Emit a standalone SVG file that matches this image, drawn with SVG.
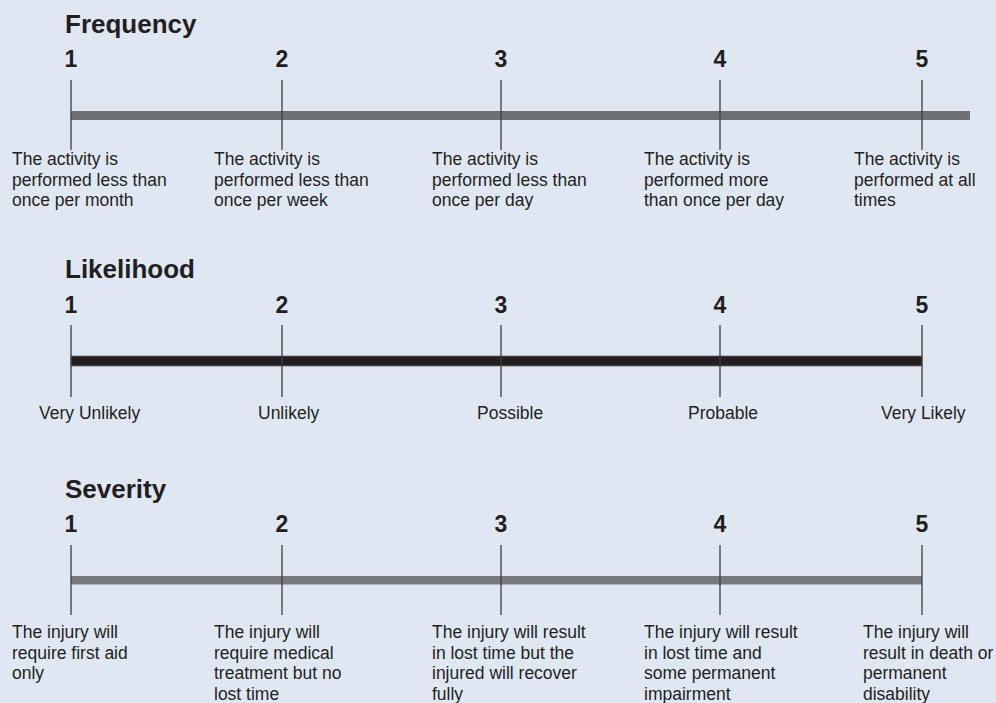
<svg xmlns="http://www.w3.org/2000/svg" width="996" height="703" viewBox="0 0 996 703">
<style>
.title{font-family:"Liberation Sans",Arial,sans-serif;font-weight:bold;font-size:26px;fill:#231f20}
.num{font-family:"Liberation Sans",Arial,sans-serif;font-weight:bold;font-size:23px;fill:#231f20;text-anchor:middle}
.lbl{font-family:"Liberation Sans",Arial,sans-serif;font-size:17.5px;fill:#231f20}
.tick{stroke:#3d3d3f;stroke-width:1.3}
</style>
<rect width="996" height="703" fill="#dfe8f2"/>

<g id="frequency">
<text class="title" x="65" y="33">Frequency</text>
<rect x="71" y="111" width="899" height="9" fill="#6d6f73"/>
<g class="tick">
<line x1="71" y1="80" x2="71" y2="150"/>
<line x1="282" y1="80" x2="282" y2="150"/>
<line x1="501" y1="80" x2="501" y2="150"/>
<line x1="720" y1="80" x2="720" y2="150"/>
<line x1="922" y1="80" x2="922" y2="150"/>
</g>
<text class="num" x="71" y="67">1</text>
<text class="num" x="282" y="67">2</text>
<text class="num" x="501" y="67">3</text>
<text class="num" x="720" y="67">4</text>
<text class="num" x="922" y="67">5</text>
<text class="lbl" x="12" y="165">The activity is<tspan x="12" dy="20.5">performed less than</tspan><tspan x="12" dy="20.5">once per month</tspan></text>
<text class="lbl" x="214" y="165">The activity is<tspan x="214" dy="20.5">performed less than</tspan><tspan x="214" dy="20.5">once per week</tspan></text>
<text class="lbl" x="432" y="165">The activity is<tspan x="432" dy="20.5">performed less than</tspan><tspan x="432" dy="20.5">once per day</tspan></text>
<text class="lbl" x="644" y="165">The activity is<tspan x="644" dy="20.5">performed more</tspan><tspan x="644" dy="20.5">than once per day</tspan></text>
<text class="lbl" x="854" y="165">The activity is<tspan x="854" dy="20.5">performed at all</tspan><tspan x="854" dy="20.5">times</tspan></text>
</g>

<g id="likelihood">
<text class="title" x="65" y="278">Likelihood</text>
<rect x="71" y="356" width="851" height="10" fill="#231f20" stroke="#6d6f73" stroke-width="0.8"/>
<g class="tick">
<line x1="71" y1="325" x2="71" y2="397"/>
<line x1="282" y1="325" x2="282" y2="397"/>
<line x1="501" y1="325" x2="501" y2="397"/>
<line x1="720" y1="325" x2="720" y2="397"/>
<line x1="922" y1="325" x2="922" y2="397"/>
</g>
<text class="num" x="71" y="313">1</text>
<text class="num" x="282" y="313">2</text>
<text class="num" x="501" y="313">3</text>
<text class="num" x="720" y="313">4</text>
<text class="num" x="922" y="313">5</text>
<text class="lbl" x="39" y="419">Very Unlikely</text>
<text class="lbl" x="258" y="419">Unlikely</text>
<text class="lbl" x="477" y="419">Possible</text>
<text class="lbl" x="688" y="419">Probable</text>
<text class="lbl" x="881" y="419">Very Likely</text>
</g>

<g id="severity">
<text class="title" x="65" y="498">Severity</text>
<rect x="71" y="576" width="851" height="8.5" fill="#77797c"/>
<g class="tick">
<line x1="71" y1="545" x2="71" y2="615"/>
<line x1="282" y1="545" x2="282" y2="615"/>
<line x1="501" y1="545" x2="501" y2="615"/>
<line x1="720" y1="545" x2="720" y2="615"/>
<line x1="922" y1="545" x2="922" y2="615"/>
</g>
<text class="num" x="71" y="532">1</text>
<text class="num" x="282" y="532">2</text>
<text class="num" x="501" y="532">3</text>
<text class="num" x="720" y="532">4</text>
<text class="num" x="922" y="532">5</text>
<text class="lbl" x="12" y="638">The injury will<tspan x="12" dy="20.5">require first aid</tspan><tspan x="12" dy="20.5">only</tspan></text>
<text class="lbl" x="214" y="638">The injury will<tspan x="214" dy="20.5">require medical</tspan><tspan x="214" dy="20.5">treatment but no</tspan><tspan x="214" dy="20.5">lost time</tspan></text>
<text class="lbl" x="432" y="638">The injury will result<tspan x="432" dy="20.5">in lost time but the</tspan><tspan x="432" dy="20.5">injured will recover</tspan><tspan x="432" dy="20.5">fully</tspan></text>
<text class="lbl" x="644" y="638">The injury will result<tspan x="644" dy="20.5">in lost time and</tspan><tspan x="644" dy="20.5">some permanent</tspan><tspan x="644" dy="20.5">impairment</tspan></text>
<text class="lbl" x="863" y="638">The injury will<tspan x="863" dy="20.5">result in death or</tspan><tspan x="863" dy="20.5">permanent</tspan><tspan x="863" dy="20.5">disability</tspan></text>
</g>
</svg>
